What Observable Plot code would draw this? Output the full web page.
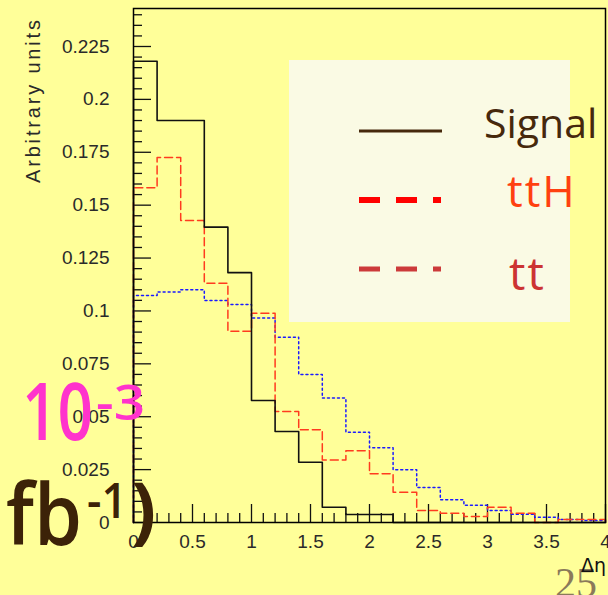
<!DOCTYPE html>
<html><head><meta charset="utf-8">
<script src="https://cdn.jsdelivr.net/npm/d3@7"></script>
<script src="https://cdn.jsdelivr.net/npm/@observablehq/plot@0.6"></script>
<style>
html,body{margin:0;padding:0;background:#ffff99;width:608px;height:595px;overflow:hidden}
#chart{position:absolute;left:0;top:0}
</style></head><body><div id="chart"></div>
<script>
// bin lower edges (Δη)
const binEdges = [0,0.2,0.4,0.6,0.8,1.0,1.2,1.4,1.6,1.8,2.0,2.2,2.4,2.6,2.8,3.0,3.2,3.4,3.6,3.8];
const xMax = 4;
const signal = [0.218,0.190,0.190,0.1396,0.1181,0.0577,0.043,0.0285,0.0072,0.0038,0.0038,0,0,0,0,0,0,0,0,0];
const ttH    = [0.1582,0.1725,0.1427,0.1131,0.0904,0.0989,0.0525,0.0438,0.0296,0.0339,0.023,0.0143,0.0057,0.0044,0.0028,0.0072,0.0044,0,0.0014,0.0014];
const tt     = [0.1073,0.1089,0.110,0.1049,0.1030,0.0967,0.0876,0.0699,0.0588,0.0427,0.0353,0.0249,0.0165,0.0107,0.0082,0.0057,0.0039,0.0025,0.0014,0.0009];
const yTicks = [0,0.025,0.05,0.075,0.1,0.125,0.15,0.175,0.2,0.225];
const xTicks = [0,0.5,1,1.5,2,2.5,3,3.5,4];
const legendLabels = ["Signal","ttH","tt"];

const yMax = 0.24296;
const pxPerX = (608-133-3)/xMax;
const pxPerY = (595-8-73)/yMax;

function steps(vals){
  const pts=[{x:0,y:0}];
  binEdges.forEach((e,i)=>pts.push({x:e,y:vals[i]}));
  pts.push({x:xMax,y:vals[vals.length-1]});
  pts.push({x:xMax,y:0});
  return pts;
}
const yMinor = d3.range(0, yMax, 0.005).filter(v=>!yTicks.some(t=>Math.abs(t-v)<1e-9));
const xMinor = d3.range(0, xMax+1e-9, 0.1).filter(v=>!xTicks.some(t=>Math.abs(t-v)<1e-9));

const plot = Plot.plot({
  width:608, height:595,
  marginLeft:133, marginRight:3, marginTop:8, marginBottom:73,
  x:{domain:[0,xMax]}, y:{domain:[0,yMax]},
  style:{background:"transparent", fontFamily:"Liberation Sans, Arial, sans-serif"},
  marks:[
    Plot.ruleY(yMinor,{y:d=>d,x1:0,x2:9/pxPerX,stroke:"#111",strokeWidth:1.3}),
    Plot.ruleY(yTicks,{y:d=>d,x1:0,x2:18/pxPerX,stroke:"#111",strokeWidth:1.3}),
    Plot.ruleX(xMinor,{x:d=>d,y1:0,y2:9/pxPerY,stroke:"#111",strokeWidth:1.3}),
    Plot.ruleX(xTicks,{x:d=>d,y1:0,y2:18/pxPerY,stroke:"#111",strokeWidth:1.3}),
    Plot.axisY(yTicks,{tickSize:0,tickPadding:24,fontSize:19,fill:"#2a2a2a",tickFormat:d=>String(+d.toFixed(3)),label:null}),
    Plot.axisX(xTicks,{tickSize:0,tickPadding:12,fontSize:19,fill:"#2a2a2a",tickFormat:d=>String(d),label:null}),
    Plot.line(steps(tt),{x:"x",y:"y",curve:"step-after",stroke:"#1a1aff",strokeWidth:1.5,strokeDasharray:"2,3"}),
    Plot.line(steps(ttH),{x:"x",y:"y",curve:"step-after",stroke:"#ff3b1f",strokeWidth:1.5,strokeDasharray:"8,4"}),
    Plot.line(steps(signal),{x:"x",y:"y",curve:"step-after",stroke:"#111",strokeWidth:1.6}),
    Plot.frame({stroke:"#000",strokeWidth:1.5})
  ]
});
document.getElementById("chart").appendChild(plot);
const svg = d3.select(plot);

// y axis title
svg.append("text").attr("transform","translate(40,101.5) rotate(-90)")
  .attr("text-anchor","middle").attr("font-family","Liberation Sans, Arial, sans-serif")
  .attr("font-size",20).attr("fill","#2a2a2a").attr("textLength",163).attr("lengthAdjust","spacing")
  .text("Arbitrary units");

// legend
const lg = svg.append("g").attr("text-anchor","start");
lg.append("rect").attr("x",289).attr("y",60).attr("width",281).attr("height",262).attr("fill","#fafae4");
lg.append("line").attr("x1",359).attr("x2",442).attr("y1",131).attr("y2",131).attr("stroke","#46280c").attr("stroke-width",3);
lg.append("line").attr("x1",359).attr("x2",442).attr("y1",200).attr("y2",200).attr("stroke","#ff0000").attr("stroke-width",6).attr("stroke-dasharray","21,16,21,16,8");
lg.append("line").attr("x1",359).attr("x2",442).attr("y1",269).attr("y2",269).attr("stroke","#cc3a3a").attr("stroke-width",5).attr("stroke-dasharray","21,16,21,16,8");
const comic = "Open Sans, Lato, sans-serif";
lg.append("text").attr("x",484).attr("y",138).attr("font-family",comic).attr("font-size",41).attr("fill","#46280c").text(legendLabels[0]);
lg.append("text").attr("x",507).attr("y",207).attr("font-family",comic).attr("font-size",44).attr("fill","#ff4010").attr("letter-spacing",2).text(legendLabels[1]);
lg.append("text").attr("x",509).attr("y",290).attr("font-family",comic).attr("font-size",46).attr("fill","#cc3333").attr("letter-spacing",2).text(legendLabels[2]);

// stray overlay texts
const ov = svg.append("g").attr("text-anchor","start");
ov.append("text").attr("x",22).attr("y",440).attr("font-family",comic).attr("font-weight",600).attr("font-size",79).attr("fill","#ff33cc").attr("textLength",71).attr("lengthAdjust","spacingAndGlyphs").text("10");
ov.append("text").attr("x",96).attr("y",420).attr("font-family",comic).attr("font-weight",600).attr("font-size",48).attr("fill","#ff33cc").attr("textLength",49).attr("lengthAdjust","spacingAndGlyphs").text("-3");
ov.append("text").attr("x",6).attr("y",545).attr("font-family",comic).attr("font-weight",600).attr("font-size",85).attr("fill","#3c2208").attr("textLength",76).attr("lengthAdjust","spacingAndGlyphs").text("fb");
ov.append("text").attr("x",87).attr("y",518).attr("font-family",comic).attr("font-weight",600).attr("font-size",48).attr("fill","#3c2208").attr("textLength",40).attr("lengthAdjust","spacingAndGlyphs").text("-1");
ov.append("text").attr("x",131).attr("y",535).attr("font-family",comic).attr("font-weight",700).attr("font-size",74).attr("fill","#3c2208").text(")");
ov.append("text").attr("x",555).attr("y",597).attr("font-family","Liberation Serif, serif").attr("font-size",42).attr("fill","#8a7a5a").text("25");
ov.append("text").attr("x",581).attr("y",572).attr("font-family","DejaVu Sans, sans-serif").attr("font-size",19).attr("fill","#111").text("Δη");
</script></body></html>
